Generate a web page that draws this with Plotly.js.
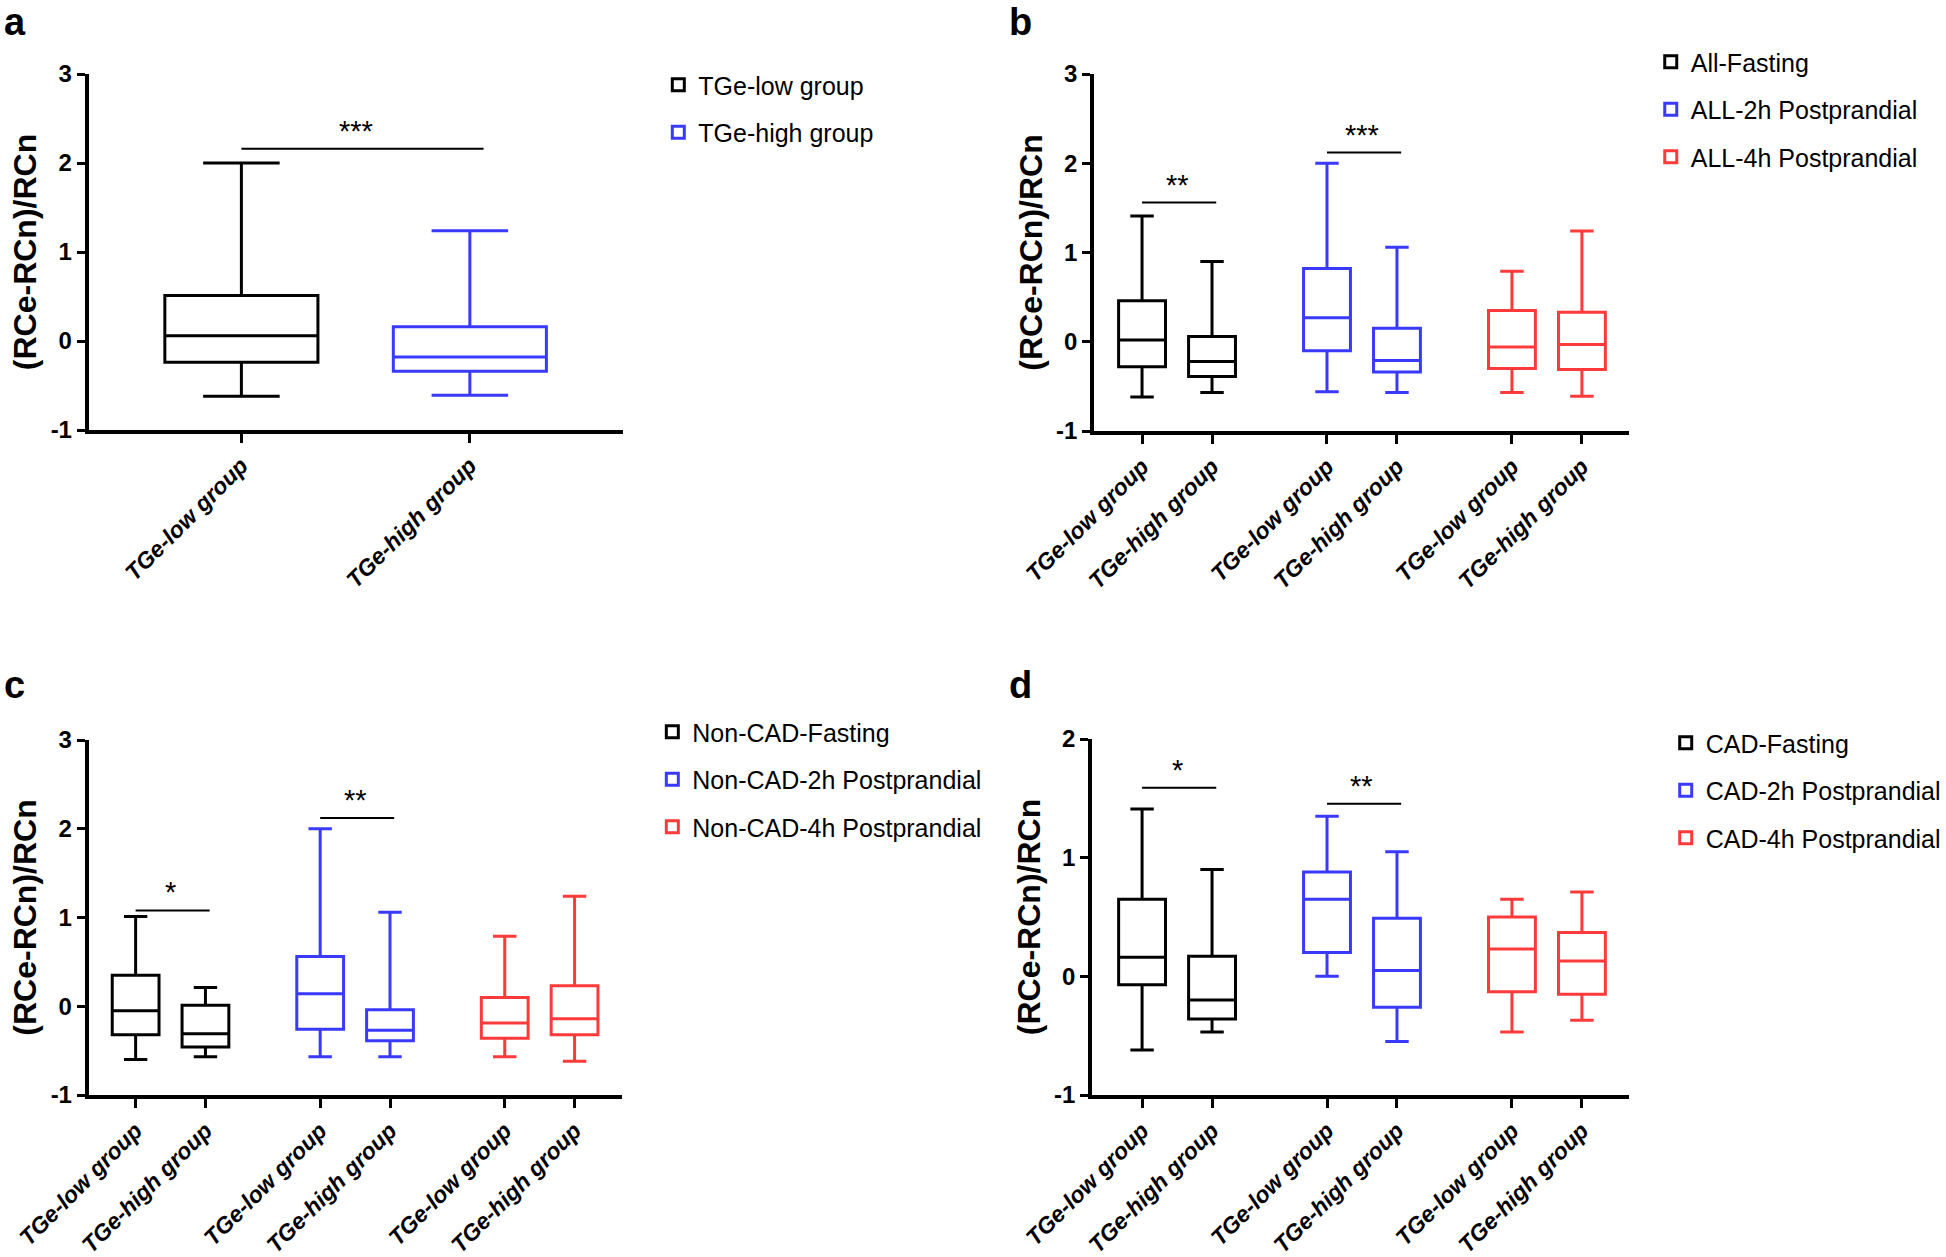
<!DOCTYPE html>
<html>
<head>
<meta charset="utf-8">
<script src="https://cdn.plot.ly/plotly-3.0.1.min.js"></script>
<style>html,body{margin:0;padding:0;background:#fff;}#chart{width:1946px;height:1257px;}</style>
</head>
<body>
<div id="chart"></div>
<script>
// ---------------- DATA ----------------
const categories = ['TGe-low group', 'TGe-high group'];

// Panel a: one box per group
const aSeries = ['TGe-low group', 'TGe-high group'];
const aUpper  = [2.00, 1.24];
const aQ3     = [0.51, 0.16];
const aMedian = [0.06, -0.18];
const aQ1     = [-0.24, -0.34];
const aLower  = [-0.62, -0.61];
const aSigLabels = ['***'];
const aSigY      = [2.16];

// Panel b
const bSeries = ['All-Fasting', 'ALL-2h Postprandial', 'ALL-4h Postprandial'];
const bUpper  = [[1.41, 0.90], [2.00, 1.06], [0.79, 1.24]];
const bQ3     = [[0.46, 0.06], [0.82, 0.15], [0.35, 0.33]];
const bMedian = [[0.02, -0.22], [0.27, -0.21], [-0.06, -0.03]];
const bQ1     = [[-0.28, -0.39], [-0.10, -0.34], [-0.30, -0.31]];
const bLower  = [[-0.62, -0.57], [-0.56, -0.57], [-0.57, -0.61]];
const bSigLabels = ['**', '***'];
const bSigY      = [1.56, 2.12];

// Panel c
const cSeries = ['Non-CAD-Fasting', 'Non-CAD-2h Postprandial', 'Non-CAD-4h Postprandial'];
const cUpper  = [[1.01, 0.21], [2.00, 1.06], [0.79, 1.24]];
const cQ3     = [[0.35, 0.01], [0.56, -0.04], [0.10, 0.23]];
const cMedian = [[-0.05, -0.31], [0.14, -0.27], [-0.19, -0.14]];
const cQ1     = [[-0.32, -0.46], [-0.26, -0.39], [-0.36, -0.32]];
const cLower  = [[-0.60, -0.57], [-0.57, -0.57], [-0.57, -0.62]];
const cSigLabels = ['*', '**'];
const cSigY      = [1.08, 2.12];

// Panel d
const dSeries = ['CAD-Fasting', 'CAD-2h Postprandial', 'CAD-4h Postprandial'];
const dUpper  = [[1.41, 0.90], [1.35, 1.05], [0.65, 0.71]];
const dQ3     = [[0.65, 0.17], [0.88, 0.49], [0.50, 0.37]];
const dMedian = [[0.16, -0.20], [0.65, 0.05], [0.23, 0.13]];
const dQ1     = [[-0.07, -0.36], [0.20, -0.26], [-0.13, -0.15]];
const dLower  = [[-0.62, -0.47], [0.00, -0.55], [-0.47, -0.37]];
const dSigLabels = ['*', '**'];
const dSigY      = [1.59, 1.455];

const yTicks3 = [-1, 0, 1, 2, 3];
const yTicks2 = [-1, 0, 1, 2];

// ---------------- STYLE / LAYOUT ----------------
const W = 1946, H = 1257;
const FONT = 'Liberation Sans, Arial, Helvetica, sans-serif';
const colors = ['#000000', '#3A3AFF', '#FF3A3A'];
const GROUP_STEP = 2.643;
const fx = p => p / W;
const fy = p => 1 - p / H;

const panels = [
  {label:'a', px:[89,625],   py:[74,430],   xr:[-0.668,1.672], yr:[-1,3], yt:yTicks3, leg:[660,62],  lab:[2,36]},
  {label:'b', px:[1097,1633],py:[74,431],   xr:[-0.684,6.956], yr:[-1,3], yt:yTicks3, leg:[1655,39], lab:[1010,36]},
  {label:'c', px:[89,624],   py:[740,1095], xr:[-0.671,6.971], yr:[-1,3], yt:yTicks3, leg:[654,709], lab:[2,699]},
  {label:'d', px:[1095,1633],py:[739,1095], xr:[-0.713,6.956], yr:[-1,2], yt:yTicks2, leg:[1670,720], lab:[1010,699]}
];

const traces = [];
const layout = {
  width: W, height: H,
  margin: {l:0, r:0, t:0, b:0},
  paper_bgcolor: '#fff', plot_bgcolor: 'rgba(0,0,0,0)',
  font: {family: FONT, color: '#000'},
  showlegend: true,
  shapes: [], annotations: []
};

function axisNames(i) {
  const s = i === 0 ? '' : String(i + 1);
  return {x: 'x' + s, y: 'y' + s, xa: 'xaxis' + s, ya: 'yaxis' + s, leg: 'legend' + s};
}

function boxTrace(name, color, xs, up, q3, med, q1, lo, ax) {
  return {
    type: 'box', name: name, x: xs,
    upperfence: up, q3: q3, median: med, q1: q1, lowerfence: lo,
    boxpoints: false, width: 0.67, whiskerwidth: 0.5,
    line: {color: color, width: 3}, fillcolor: 'rgba(255,255,255,0)',
    xaxis: ax.x, yaxis: ax.y, legend: ax.leg, legendgroup: ax.leg + name,
    hoverinfo: 'name+y'
  };
}

function setupPanel(i, tickvals, ticktext) {
  const p = panels[i], ax = axisNames(i);
  layout[ax.xa] = {
    domain: [fx(p.px[0]), fx(p.px[1])], range: p.xr, anchor: ax.y,
    showline: true, linewidth: 4, linecolor: '#000', showgrid: false, zeroline: false,
    ticks: 'outside', ticklen: 9, tickwidth: 3, tickcolor: '#000',
    tickmode: 'array', tickvals: tickvals, ticktext: ticktext, tickangle: -45,
    tickfont: {family: FONT, size: 23, weight: 'bold', style: 'italic', color: '#000'},
    fixedrange: true
  };
  layout[ax.ya] = {
    domain: [fy(p.py[1]), fy(p.py[0])], range: p.yr, anchor: ax.x,
    showline: true, linewidth: 4, linecolor: '#000', showgrid: false, zeroline: false,
    ticks: 'outside', ticklen: 8, tickwidth: 3, tickcolor: '#000',
    tickmode: 'array', tickvals: p.yt, ticktext: p.yt.map(String),
    tickfont: {family: FONT, size: 24, weight: 'bold', color: '#000'},
    title: {text: '(RCe-RCn)/RCn', font: {family: FONT, size: 32, weight: 'bold', color: '#000'}, standoff: 5},
    fixedrange: true
  };
  layout[ax.leg] = {
    x: fx(p.leg[0]), y: fy(p.leg[1]), xanchor: 'left', yanchor: 'top',
    font: {family: FONT, size: 25, color: '#000'}, tracegroupgap: 12,
    bgcolor: 'rgba(0,0,0,0)', borderwidth: 0
  };
  layout.annotations.push({
    xref: 'paper', yref: 'paper', x: fx(p.lab[0]), y: fy(p.lab[1]),
    xanchor: 'left', yanchor: 'bottom', yshift: -9, text: p.label, showarrow: false,
    font: {family: FONT, size: 38, weight: 'bold', color: '#000'}
  });
  return ax;
}

function addSig(ax, x0, x1, yv, label) {
  layout.shapes.push({type: 'line', xref: ax.x, yref: ax.y, x0: x0, x1: x1 + 0.06, y0: yv, y1: yv,
    line: {color: '#000', width: 2}});
  layout.annotations.push({xref: ax.x, yref: ax.y, x: (x0 + x1) / 2, y: yv, text: label,
    showarrow: false, yanchor: 'bottom', yshift: 0,
    font: {family: FONT, size: 29, color: '#000'}});
}

// Panel a
{
  const ax = setupPanel(0, [0, 1], categories);
  aSeries.forEach((name, s) => {
    traces.push(boxTrace(name, colors[s], [s], [aUpper[s]], [aQ3[s]], [aMedian[s]], [aQ1[s]], [aLower[s]], ax));
  });
  aSigLabels.forEach((lab, k) => addSig(ax, 0, 1, aSigY[k], lab));
}

// Panels b, c, d
const grouped = [
  [bSeries, bUpper, bQ3, bMedian, bQ1, bLower, bSigLabels, bSigY],
  [cSeries, cUpper, cQ3, cMedian, cQ1, cLower, cSigLabels, cSigY],
  [dSeries, dUpper, dQ3, dMedian, dQ1, dLower, dSigLabels, dSigY]
];
grouped.forEach((g, k) => {
  const [series, up, q3, med, q1, lo, sigL, sigY] = g;
  const pos = (gi, i) => gi * GROUP_STEP + i;
  const tv = [], tt = [];
  series.forEach((_, gi) => categories.forEach((c, i) => { tv.push(pos(gi, i)); tt.push(c); }));
  const ax = setupPanel(k + 1, tv, tt);
  series.forEach((name, gi) => {
    traces.push(boxTrace(name, colors[gi], [pos(gi, 0), pos(gi, 1)], up[gi], q3[gi], med[gi], q1[gi], lo[gi], ax));
  });
  sigL.forEach((lab, j) => addSig(ax, pos(j, 0), pos(j, 1), sigY[j], lab));
});

Plotly.newPlot('chart', traces, layout, {staticPlot: true, displayModeBar: false});
</script>
</body>
</html>
